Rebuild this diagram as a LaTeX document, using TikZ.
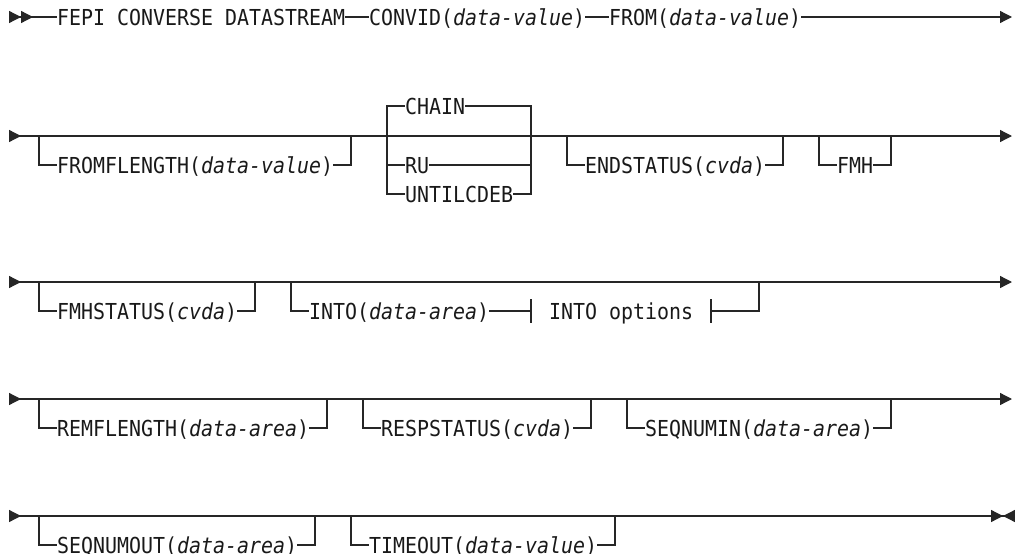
\documentclass[tikz,border=0pt]{standalone}
\usepackage{fontspec}
\usepackage{tikz}
\usetikzlibrary{arrows.meta}
\newfontfamily\railfont[FakeStretch=0.906]{DejaVu Sans Mono}
\newcommand{\parm}[1]{\textit{#1}}

\begin{document}
\begin{tikzpicture}[x=12pt, y=-1pt, shift={(57pt,0pt)}, >={Triangle[length=12pt,width=12pt]},
  kw/.style={anchor=west,inner sep=0pt,text height=16pt,text depth=0pt,text=black!90,font=\railfont\fontsize{22pt}{26pt}\selectfont},
  rail/.style={line width=1.3pt,draw=black!85}]
\useasboundingbox (-4.75,0) rectangle (79.8333,554);
% row 1
\coordinate (start1) at (-4,17); \coordinate (end1) at (79.583,17);
\node[kw] (fepi) at (0,17) {FEPI CONVERSE DATASTREAM};
\node[kw] (convid) at (26,17) {CONVID(\parm{data-value})};
\node[kw] (from) at (46,17) {FROM(\parm{data-value})};
\draw[rail,>>-] (start1) -- (fepi);
\draw[rail] (fepi) -- (convid); \draw[rail] (convid) -- (from);
\draw[rail,->] (from) -- (end1);
% row 2
\coordinate (start2) at (-4,136); \coordinate (end2) at (79.583,136);
\draw[rail,>->] (start2) -- (end2);
\coordinate (fl1) at (-1.5,136); \coordinate (fl2) at (24.5,136);
\node[kw] (fromflength) at (0,165) {FROMFLENGTH(\parm{data-value})};
\draw[rail] (fl1) |- (fromflength) -| (fl2);
\coordinate (ch1) at (27.5,106); \coordinate (ch2) at (39.5,106);
\node[kw] (chain) at (29,106) {CHAIN};
\node[kw] (ru) at (29,165) {RU};
\node[kw] (untilcdeb) at (29,194) {UNTILCDEB};
\draw[rail] (untilcdeb) -| (ch1) -- (chain) -- (ch2) |- (untilcdeb);
\draw[rail] (ch1) |- (ru) -| (ch2);
\coordinate (es1) at (42.5,136); \coordinate (es2) at (60.5,136);
\node[kw] (endstatus) at (44,165) {ENDSTATUS(\parm{cvda})};
\draw[rail] (es1) |- (endstatus) -| (es2);
\coordinate (fm1) at (63.5,136); \coordinate (fm2) at (69.5,136);
\node[kw] (fmh) at (65,165) {FMH};
\draw[rail] (fm1) |- (fmh) -| (fm2);
% row 3
\coordinate (start3) at (-4,282); \coordinate (end3) at (79.583,282);
\draw[rail,>->] (start3) -- (end3);
\coordinate (fs1) at (-1.5,282); \coordinate (fs2) at (16.5,282);
\node[kw] (fmhstatus) at (0,311) {FMHSTATUS(\parm{cvda})};
\draw[rail] (fs1) |- (fmhstatus) -| (fs2);
\coordinate (in1) at (19.5,282); \coordinate (in2) at (58.5,282);
\node[kw] (into) at (21,311) {INTO(\parm{data-area})};
\node[kw] (intoopt) at (41,311) {INTO options};
\coordinate (tk1) at (39.5,311); \coordinate (tk2) at (54.5,311);
\draw[rail] (in1) |- (into) -- (tk1);
\draw[rail] (tk2) -| (in2);
\draw[rail] ([yshift=12pt]tk1) -- ([yshift=-12pt]tk1);
\draw[rail] ([yshift=12pt]tk2) -- ([yshift=-12pt]tk2);
% row 4
\coordinate (start4) at (-4,399); \coordinate (end4) at (79.583,399);
\draw[rail,>->] (start4) -- (end4);
\coordinate (rl1) at (-1.5,399); \coordinate (rl2) at (22.5,399);
\node[kw] (remflength) at (0,428) {REMFLENGTH(\parm{data-area})};
\draw[rail] (rl1) |- (remflength) -| (rl2);
\coordinate (rs1) at (25.5,399); \coordinate (rs2) at (44.5,399);
\node[kw] (respstatus) at (27,428) {RESPSTATUS(\parm{cvda})};
\draw[rail] (rs1) |- (respstatus) -| (rs2);
\coordinate (sq1) at (47.5,399); \coordinate (sq2) at (69.5,399);
\node[kw] (seqnumin) at (49,428) {SEQNUMIN(\parm{data-area})};
\draw[rail] (sq1) |- (seqnumin) -| (sq2);
% row 5
\coordinate (start5) at (-4,516); \coordinate (end5) at (79.833,516);
\draw[rail,>-><] (start5) -- (end5);
\coordinate (so1) at (-1.5,516); \coordinate (so2) at (21.5,516);
\node[kw] (seqnumout) at (0,545) {SEQNUMOUT(\parm{data-area})};
\draw[rail] (so1) |- (seqnumout) -| (so2);
\coordinate (to1) at (24.5,516); \coordinate (to2) at (46.5,516);
\node[kw] (timeout) at (26,545) {TIMEOUT(\parm{data-value})};
\draw[rail] (to1) |- (timeout) -| (to2);
\end{tikzpicture}
\end{document}
